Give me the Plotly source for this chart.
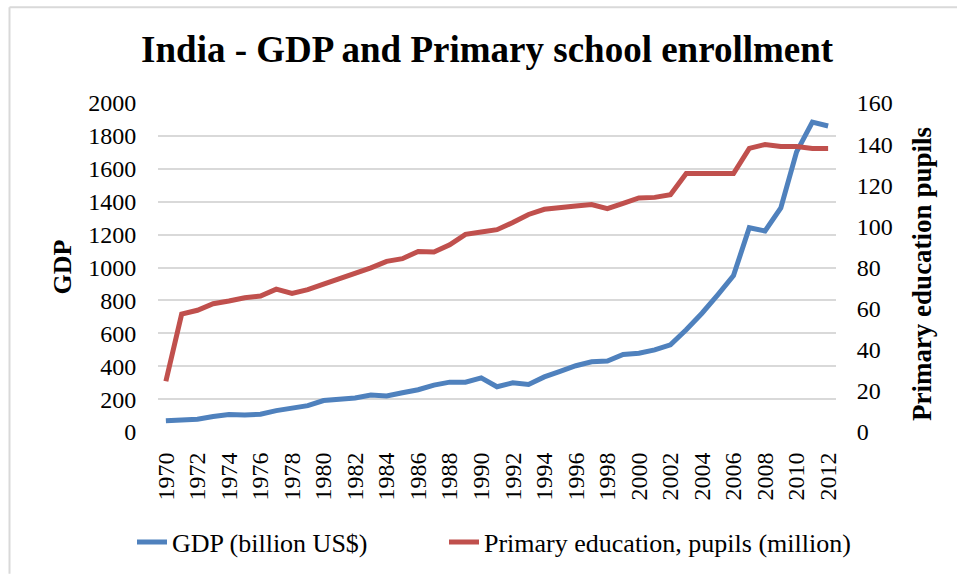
import plotly.graph_objects as go

years = list(range(1970, 2013))
gdp = [68, 72, 78, 94, 106, 104, 108, 130, 146, 160,
       191, 199, 207, 225, 219, 239, 257, 285, 303, 303,
       329, 275, 299, 289, 335, 369, 403, 427, 431, 471,
       479, 499, 530, 622, 722, 834, 951, 1242, 1222, 1362,
       1703, 1884, 1860]
pupils = [24.7, 57.3, 59.2, 62.4, 63.7, 65.3, 66.1, 69.5, 67.4, 69.2,
          71.9, 74.5, 76.6, 79.8, 83.0, 84.3, 87.8, 87.5, 91.0, 96.1,
          97.3, 98.4, 101.9, 105.8, 108.3, 109.3, 109.9, 110.6, 108.6, 111.2,
          113.8, 114.1, 115.4, 125.7, 125.7, 125.7, 125.7, 137.9, 139.8, 138.8,
          138.8, 137.9, 137.9]
tick_years = list(range(1970, 2013, 2))
series_names = ["GDP (billion US$)", "Primary education, pupils (million)"]

FONT = "Liberation Serif, Times New Roman, serif"
PAD = "\u00a0" * 11

fig = go.Figure()
fig.add_trace(go.Scatter(x=years, y=gdp, mode="lines", name=series_names[0] + PAD,
                         line=dict(color="#4f81bd", width=5)))
fig.add_trace(go.Scatter(x=years, y=pupils, mode="lines", name=series_names[1],
                         line=dict(color="#c0504d", width=5), yaxis="y2"))

fig.update_layout(
    width=957, height=578,
    margin=dict(l=158, r=121, t=103, b=143),
    paper_bgcolor="white", plot_bgcolor="white",
    font=dict(family=FONT, size=24, color="black"),
    title=dict(text="<b>India - GDP and Primary school enrollment</b>",
               x=0.509, xanchor="center", y=0.915, yanchor="middle",
               font=dict(family=FONT, size=37, color="black")),
    xaxis=dict(range=[1969.5, 2012.5], tickmode="array", tickvals=tick_years,
               ticktext=[str(y) for y in tick_years], tickangle=-90,
               showgrid=False, zeroline=False, showline=False,
               ticks="outside", ticklen=10, tickcolor="rgba(0,0,0,0)",
               tickfont=dict(family=FONT, size=24)),
    yaxis=dict(range=[0, 2000], dtick=200, showgrid=True, gridcolor="#d9d9d9",
               gridwidth=1.5, zeroline=False, showline=False,
               ticks="outside", ticklen=16, tickcolor="rgba(0,0,0,0)",
               tickfont=dict(family=FONT, size=24)),
    yaxis2=dict(range=[0, 160], dtick=20, overlaying="y", side="right",
                showgrid=False, zeroline=False, showline=False,
                ticks="outside", ticklen=15, tickcolor="rgba(0,0,0,0)",
                tickfont=dict(family=FONT, size=24)),
    legend=dict(orientation="h", x=(132 - 158) / 678, xanchor="left",
                y=-0.335, yanchor="middle",
                font=dict(family=FONT, size=26),
                traceorder="normal", bgcolor="rgba(0,0,0,0)"),
    showlegend=True,
)

fig.add_annotation(text="<b>GDP</b>", xref="paper", yref="paper",
                   x=(62 - 158) / 678, xanchor="center", y=0.5, yanchor="middle",
                   textangle=-90, showarrow=False,
                   font=dict(family=FONT, size=26, color="black"))
fig.add_annotation(text="<b>Primary education pupils</b>", xref="paper", yref="paper",
                   x=(922 - 158) / 678, xanchor="center", y=0.48, yanchor="middle",
                   textangle=-90, showarrow=False,
                   font=dict(family=FONT, size=27, color="black"))

# outer chart border (top and left visible)
fig.add_shape(type="line", xref="paper", yref="paper",
              x0=(9.5 - 158) / 678, x1=(957 - 158) / 678,
              y0=1 + (103 - 6.5) / 332, y1=1 + (103 - 6.5) / 332,
              line=dict(color="#d9d9d9", width=2))
fig.add_shape(type="line", xref="paper", yref="paper",
              x0=(9.5 - 158) / 678, x1=(9.5 - 158) / 678,
              y0=1 + (103 - 6.5) / 332, y1=-(578 - 435) / 332,
              line=dict(color="#d9d9d9", width=2))

fig.write_html("out.html")
